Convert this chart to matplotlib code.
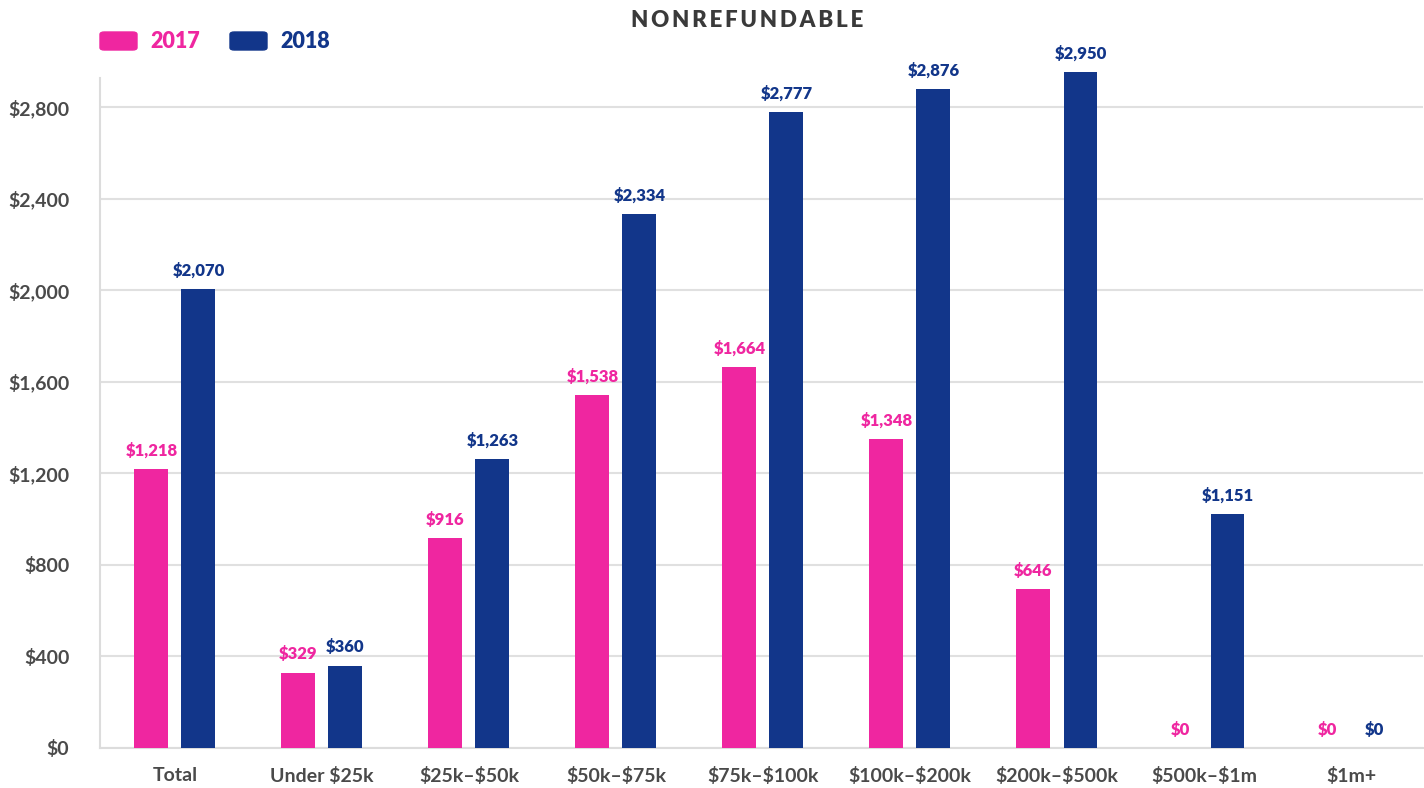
import numpy as np
import matplotlib.pyplot as plt
from matplotlib.patches import FancyBboxPatch

plt.rcParams['font.family'] = ['Lato', 'DejaVu Sans']

categories = ["Total", "Under $25k", "$25k\u2013$50k", "$50k\u2013$75k", "$75k\u2013$100k",
              "$100k\u2013$200k", "$200k\u2013$500k", "$500k\u2013$1m", "$1m+"]
# bar heights as drawn in the picture
bars_2017 = [1218, 329, 916, 1540, 1666, 1350, 695, 0, 0]
bars_2018 = [2005, 360, 1262, 2332, 2780, 2878, 2952, 1022, 0]
# printed labels
labels_2017 = [1218, 329, 916, 1538, 1664, 1348, 646, 0, 0]
labels_2018 = [2070, 360, 1263, 2334, 2777, 2876, 2950, 1151, 0]
yticks = [0, 400, 800, 1200, 1600, 2000, 2400, 2800]

pink = '#EF26A0'
navy = '#12368A'
gray = '#4a4a4a'


def money(v):
    return "\\${:,}".format(v)


fig = plt.figure(figsize=(14.24, 7.88), dpi=100)
ax = fig.add_axes([0.0702, 0.0508, 0.9291, 0.8502])

x = np.arange(len(categories))
w = 0.231
off = 0.16
ax.bar(x - off, bars_2017, w, color=pink, zorder=3, clip_on=False)
ax.bar(x + off, bars_2018, w, color=navy, zorder=3, clip_on=False)

for i in range(len(categories)):
    ax.text(x[i] - off, bars_2017[i] + 45, money(labels_2017[i]), ha='center', va='bottom',
            color=pink, fontsize=12, fontweight='heavy')
    ax.text(x[i] + off, bars_2018[i] + 45, money(labels_2018[i]), ha='center', va='bottom',
            color=navy, fontsize=12, fontweight='heavy')

ax.set_xlim(-0.51, 8.49)
ax.set_ylim(0, 2927)
ax.set_yticks(yticks)
ax.set_yticklabels([money(v) for v in yticks])
ax.set_xticks(x)
ax.set_xticklabels([c.replace("$", "\\$") for c in categories])
ax.tick_params(axis='both', length=0, labelsize=14, labelcolor=gray)
ax.tick_params(axis='y', pad=22)
ax.tick_params(axis='x', pad=14)
for lab in ax.get_xticklabels() + ax.get_yticklabels():
    lab.set_fontweight('bold')

ax.grid(axis='y', color='#e0e0e0', linewidth=1.5, zorder=0)
ax.set_axisbelow(True)
for s in ['top', 'right']:
    ax.spines[s].set_visible(False)
ax.spines['left'].set_color('#dcdcdc')
ax.spines['left'].set_linewidth(1.5)
ax.spines['bottom'].set_color('#dcdcdc')
ax.spines['bottom'].set_linewidth(1.5)

# title
fig.text(0.5246, 0.974, "\u2009".join("NONREFUNDABLE"), ha='center', va='center',
         fontsize=16, fontweight='heavy', color='#3a3a3a')

# legend
for xp, lab, col in [(100, "2017", pink), (230, "2018", navy)]:
    fig.patches.append(FancyBboxPatch((xp / 1424, 1 - 50 / 788), 37 / 1424, 18 / 788,
                                      boxstyle="round,pad=0,rounding_size=0.003",
                                      transform=fig.transFigure, color=col))
    fig.text((xp + 50) / 1424, 1 - 41 / 788, lab, ha='left', va='center', fontsize=15.5,
             fontweight='heavy', color=col)

fig.savefig("out.png", dpi=100)
